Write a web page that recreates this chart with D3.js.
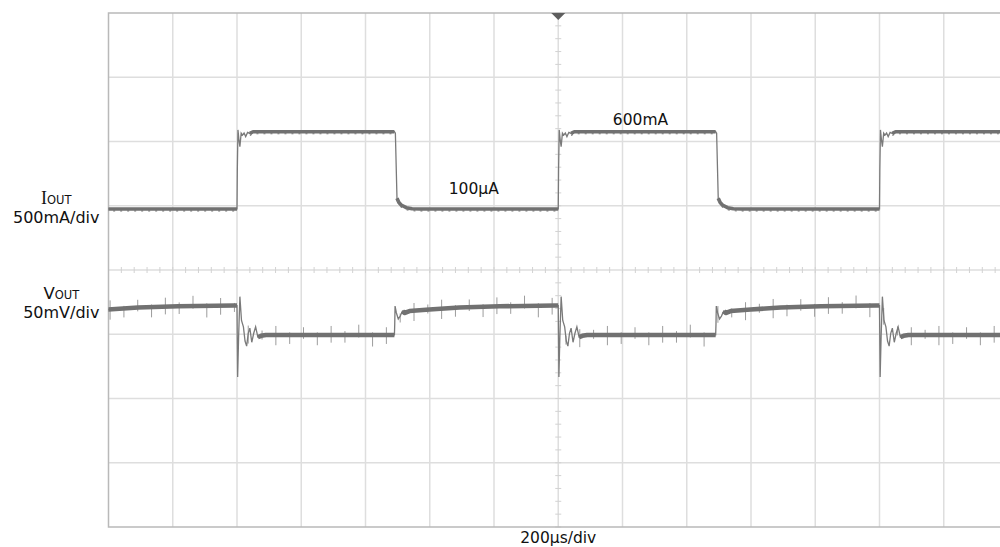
<!DOCTYPE html>
<html>
<head>
<meta charset="utf-8">
<script src="https://cdn.jsdelivr.net/npm/d3@7"></script>
<style>
  html, body { margin: 0; background: #fff; }
  svg { display: block; }
  text { font-family: "DejaVu Sans", sans-serif; fill: #111; }
</style>
</head>
<body>
<svg id="scope" width="1000" height="547"></svg>
<script>
// ---- Acquisition settings ----
const timePerDiv = 200;          // µs/div
const timeSpan = [-1400, 1400];  // µs, trigger at 0
const iPerDiv = 500;             // mA/div
const vPerDiv = 50;              // mV/div
const iOffsetDiv = 0.95;         // screen position of 0 mA (div above centre)
const vOffsetDiv = -0.545;       // screen position of the Vout reference (div)

// ---- Load-step timing (µs) ----
const riseTimes = [-1000, 0, 1000];     // 100µA -> 600mA
const fallTimes = [-1510, -510, 490];   // 600mA -> 100µA

// ---- Iout step responses: [µs after edge, mA] ----
const iRiseResp = [[0, 0.1], [1, 300], [3, 615], [6, 540], [9, 485], [13, 590], [17, 575],
                   [22, 591], [27, 563], [33, 596], [40, 588], [50, 601]];
const iFallResp = [[0, 601], [3, 590], [8, 83], [14, 50], [21, 31], [37, 10], [55, 2], [80, 0.1]];

// ---- Vout step responses: [µs after edge, mV from reference] ----
const vRiseResp = [[0, -0.5], [1, -30], [2, -56], [5, -25], [9, 6.5], [14, -12], [20, -17],
                   [25, -28], [30, -32], [35, -22], [40, -18], [46, -29], [52, -22], [58, -17],
                   [65, -25], [75, -24], [90, -23.3]];
const vFallResp = [[0, -23.3], [1, -15], [2, -0.8], [6, -6], [12, -10.9], [18, -8.6], [25, -4.7],
                   [31, -6.2], [47, -4.7], [109, -3.5], [202, -1.9], [327, -1.0], [500, -0.4]];

// ---- Switching noise on Vout: [mV above, mV below] ----
const vSpikes = [[7, 8], [2, 7], [6, 3], [2, 8], [7, 6], [3, 6], [8, 2], [2, 9], [6, 7], [2, 5], [6, 8], [4, 3]];
const spikeStep = 43;            // µs between noise bursts

// ---- Labels ----
const iName = ["I", "OUT"], iScaleText = "500mA/div";
const vName = ["V", "OUT"], vScaleText = "50mV/div";
const highLevelText = "600mA", lowLevelText = "100µA";
const timebaseText = "200µs/div";

// ---- Layout ----
const svg = d3.select("#scope");
const plotLeft = 108.5, plotTop = 13, divPx = 64.25, nX = 14, nY = 8;
const x = d3.scaleLinear().domain(timeSpan).range([plotLeft, plotLeft + nX * divPx]);
const div = d3.scaleLinear().domain([-nY / 2, nY / 2]).range([plotTop + nY * divPx, plotTop]);
const yI = d3.scaleLinear()
  .domain([(-nY / 2 - iOffsetDiv) * iPerDiv, (nY / 2 - iOffsetDiv) * iPerDiv])
  .range(div.range());
const yV = d3.scaleLinear()
  .domain([(-nY / 2 - vOffsetDiv) * vPerDiv, (nY / 2 - vOffsetDiv) * vPerDiv])
  .range(div.range());

const plotBottom = div(-nY / 2), plotRight = x(timeSpan[1]);

svg.append("defs").append("clipPath").attr("id", "plot")
  .append("rect").attr("x", plotLeft).attr("y", plotTop)
  .attr("width", plotRight - plotLeft).attr("height", plotBottom - plotTop);

// ---- Graticule ----
const grid = svg.append("g");
const vLines = d3.range(timeSpan[0] + timePerDiv, timeSpan[1], timePerDiv);
const hLines = d3.range(-nY / 2 + 1, nY / 2, 1);
grid.selectAll(".gx").data(vLines).join("line")
  .attr("x1", d => x(d)).attr("x2", d => x(d)).attr("y1", plotTop).attr("y2", plotBottom)
  .attr("stroke", "#dedede").attr("stroke-width", 1.5);
grid.selectAll(".gy").data(hLines).join("line")
  .attr("x1", plotLeft).attr("x2", plotRight).attr("y1", d => div(d)).attr("y2", d => div(d))
  .attr("stroke", "#dedede").attr("stroke-width", 1.5);

// minor ticks on the centre axes (5 per division)
const minorT = d3.range(timeSpan[0], timeSpan[1] + 1, timePerDiv / 5);
const minorD = d3.range(-nY / 2, nY / 2 + 0.001, 0.2);
grid.selectAll(".mx").data(minorT).join("line")
  .attr("x1", d => x(d)).attr("x2", d => x(d))
  .attr("y1", div(0) - 3).attr("y2", div(0) + 3)
  .attr("stroke", "#d2d2d2").attr("stroke-width", 1);
grid.selectAll(".my").data(minorD).join("line")
  .attr("x1", x(0) - 3).attr("x2", x(0) + 3)
  .attr("y1", d => div(d)).attr("y2", d => div(d))
  .attr("stroke", "#d2d2d2").attr("stroke-width", 1);

// frame
grid.append("rect").attr("x", plotLeft).attr("y", plotTop)
  .attr("width", plotRight - plotLeft).attr("height", plotBottom - plotTop)
  .attr("fill", "none").attr("stroke", "#b9b9b9").attr("stroke-width", 1.5);

// trigger position marker
svg.append("path")
  .attr("d", `M${x(0) - 7},${plotTop} L${x(0) + 7},${plotTop} L${x(0)},${plotTop + 7} Z`)
  .attr("fill", "#5e5e5e");

// ---- Traces ----
function buildTrace(riseResp, fallResp, settleRise, settleFall) {
  const edges = riseTimes.map(t => ({ t, r: riseResp, s: settleRise }))
    .concat(fallTimes.map(t => ({ t, r: fallResp, s: settleFall })))
    .sort((a, b) => a.t - b.t);
  const pts = [];
  edges.forEach((e, i) => {
    const next = i + 1 < edges.length ? edges[i + 1].t : timeSpan[1] + 20;
    e.r.forEach(([dt, v]) => {
      if (e.t + dt < next) pts.push({ t: e.t + dt, v, settled: dt >= e.s });
    });
    pts.push({ t: next, v: e.r[e.r.length - 1][1], settled: true });
  });
  return pts;
}

const iTrace = buildTrace(iRiseResp, iFallResp, 40, 8);
const vTrace = buildTrace(vRiseResp, vFallResp, 62, 25);

const traces = svg.append("g").attr("clip-path", "url(#plot)");

function drawTrace(pts, y, band) {
  const thin = d3.line().x(d => x(d.t)).y(d => y(d.v));
  const thick = d3.line().defined(d => d.settled).x(d => x(d.t)).y(d => y(d.v));
  traces.append("path").datum(pts).attr("d", thin)
    .attr("fill", "none").attr("stroke", "#7a7a7a").attr("stroke-width", 1.3);
  traces.append("path").datum(pts).attr("d", thick)
    .attr("fill", "none").attr("stroke", "#717171").attr("stroke-width", band)
    .attr("stroke-linejoin", "round");
}

// value of a trace at an arbitrary time, used to seat the noise bursts on it
function valueAt(pts, t) {
  const i = d3.bisector(d => d.t).right(pts, t);
  if (i <= 0) return pts[0].v;
  if (i >= pts.length) return pts[pts.length - 1].v;
  const a = pts[i - 1], b = pts[i];
  return b.t === a.t ? b.v : a.v + (b.v - a.v) * (t - a.t) / (b.t - a.t);
}

// Vout noise bursts
const spikeTimes = d3.range(timeSpan[0] + 5, timeSpan[1], spikeStep);
traces.selectAll(".spk").data(spikeTimes).join("line")
  .attr("x1", d => x(d)).attr("x2", d => x(d))
  .attr("y1", (d, i) => yV(valueAt(vTrace, d) + vSpikes[i % vSpikes.length][0]))
  .attr("y2", (d, i) => yV(valueAt(vTrace, d) - vSpikes[i % vSpikes.length][1]))
  .attr("stroke", "#9c9c9c").attr("stroke-width", 1);

drawTrace(iTrace, yI, 3.6);
drawTrace(vTrace, yV, 4.6);

// small notches along the Iout band
traces.append("path").datum(iTrace)
  .attr("d", d3.line().defined(d => d.settled).x(d => x(d.t)).y(d => yI(d.v) + 2))
  .attr("fill", "none").attr("stroke", "#777").attr("stroke-width", 1.2)
  .attr("stroke-dasharray", "2,5");

// ---- Text ----
const textSize = 16;

function channelLabel(nameParts, scaleText, y0) {
  const scale = svg.append("text")
    .attr("x", 99.5).attr("y", y0 + 14)
    .attr("text-anchor", "end").attr("font-size", textSize)
    .text(scaleText);
  const bb = scale.node().getBBox();
  const name = svg.append("text")
    .attr("x", bb.x + bb.width / 2).attr("y", y0 - 5)
    .attr("text-anchor", "middle");
  name.append("tspan").attr("font-size", nameParts[0] === "I" ? 18 : 16.5)
    .style("font-family", nameParts[0] === "I" ? "'Liberation Serif', serif" : null)
    .text(nameParts[0]);
  name.append("tspan").attr("font-size", 11.5).text(nameParts[1]);
}
channelLabel(iName, iScaleText, yI(0));
channelLabel(vName, vScaleText, yV(0) - 1);

svg.append("text").attr("x", x(170)).attr("y", yI(600) - 7)
  .attr("font-size", textSize - 0.5).text(highLevelText);
svg.append("text").attr("x", x(-341)).attr("y", yI(0) - 15)
  .attr("font-size", textSize - 0.5).text(lowLevelText);
svg.append("text").attr("x", x(0)).attr("y", plotBottom + 16)
  .attr("text-anchor", "middle").attr("font-size", textSize - 0.5).text(timebaseText);
</script>
</body>
</html>
